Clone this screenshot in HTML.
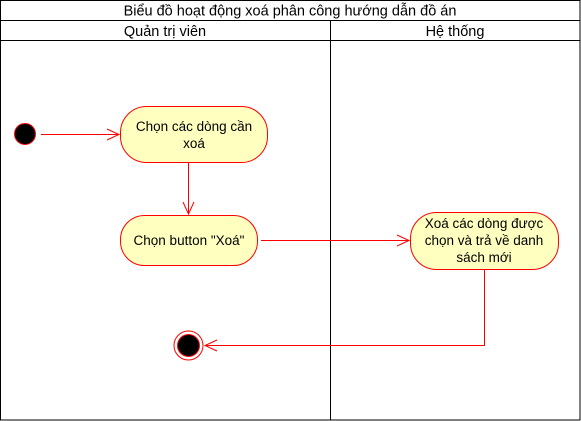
<!DOCTYPE html>
<html><head><meta charset="utf-8"><style>body{margin:0;background:#fff}svg{display:block}text{font-family:"Liberation Sans",Helvetica,sans-serif;font-size:13.5px;fill:#000}.h{font-size:14.5px}</style></head><body>
<svg width="581" height="421" viewBox="0 0 581 421">
<rect x="0.5" y="0.5" width="579.5" height="419.5" fill="#fff" stroke="#000"/>
<line x1="0" y1="20.5" x2="580" y2="20.5" stroke="#000"/>
<line x1="0" y1="40.5" x2="580" y2="40.5" stroke="#000"/>
<line x1="330.5" y1="20" x2="330.5" y2="420" stroke="#000"/>
<text class="h" x="290" y="15.5" text-anchor="middle">Biểu đồ hoạt động xoá phân công hướng dẫn đồ án</text>
<text class="h" x="165" y="36" text-anchor="middle">Quản trị viên</text>
<text class="h" x="455" y="36" text-anchor="middle">Hệ thống</text>
<circle cx="25" cy="134" r="10.5" fill="#000" stroke="#f00"/>
<g stroke="#f00" fill="none">
<line x1="41" y1="134.5" x2="119" y2="134.5"/>
<polyline points="107,129 119,134.5 107,140"/>
<line x1="188.5" y1="163" x2="188.5" y2="214"/>
<polyline points="183,202 188.5,214 194,202"/>
<line x1="261" y1="240.5" x2="409" y2="240.5"/>
<polyline points="397,235 409,240.5 397,246"/>
<polyline points="484.5,270 484.5,345.5 205,345.5"/>
<polyline points="217,340 205,345.5 217,351"/>
</g>
<rect x="120.5" y="106.5" width="147" height="56" rx="26" fill="#ffffc0" stroke="#f00"/>
<text x="194" y="131" text-anchor="middle">Chọn các dòng cần</text>
<text x="194" y="148" text-anchor="middle">xoá</text>
<rect x="120.5" y="215.5" width="137" height="50" rx="24" fill="#ffffc0" stroke="#f00"/>
<text x="189" y="245" text-anchor="middle">Chọn button "Xoá"</text>
<rect x="410.5" y="212.5" width="148" height="57" rx="26" fill="#ffffc0" stroke="#f00"/>
<text x="484" y="228" text-anchor="middle">Xoá các dòng được</text>
<text x="484" y="245" text-anchor="middle">chọn và trả về danh</text>
<text x="484" y="262" text-anchor="middle">sách mới</text>
<circle cx="188.5" cy="345.5" r="14.5" fill="#fff" stroke="#f00"/>
<circle cx="188.5" cy="345.5" r="11" fill="#000" stroke="#f00"/>
</svg>
</body></html>
